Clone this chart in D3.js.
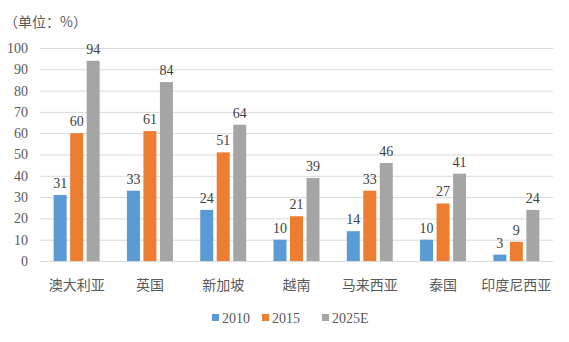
<!DOCTYPE html>
<html>
<head>
<meta charset="utf-8">
<script src="https://cdn.jsdelivr.net/npm/d3@7"></script>
<style>
  html, body { margin: 0; padding: 0; background: #fff; }
  svg { display: block; }
</style>
</head>
<body>
<svg id="chart" width="569" height="342"></svg>
<script>
// Chart data
const categories = ["澳大利亚", "英国", "新加坡", "越南", "马来西亚", "泰国", "印度尼西亚"];
const seriesNames = ["2010", "2015", "2025E"];
const values2010 = [31, 33, 24, 10, 14, 10, 3];
const values2015 = [60, 61, 51, 21, 33, 27, 9];
const values2025 = [94, 84, 64, 39, 46, 41, 24];
const yTicks = [0, 10, 20, 30, 40, 50, 60, 70, 80, 90, 100];
const colors = ["#5B9BD5", "#ED7D31", "#A5A5A5"];
const unitLabel = "（单位：%）";

const seriesValues = [values2010, values2015, values2025];

const svg = d3.select("#chart");
const serif = "'Liberation Serif', 'Times New Roman', serif";
const cjk = "'Noto Sans CJK SC', sans-serif";
const textColor = "#595959";

const margin = { left: 40, right: 16, top: 48, bottom: 81 };
const W = 569, H = 342;
const plotW = W - margin.left - margin.right;
const plotH = H - margin.top - margin.bottom;

const x = d3.scaleBand().domain(categories).range([margin.left, margin.left + plotW]);
const y = d3.scaleLinear().domain([0, 100]).range([margin.top + plotH, margin.top]);
const barW = 13, step = 16.5;

// Gridlines and y-axis labels
const yAxis = d3.axisLeft(y).tickValues(yTicks).tickSize(-plotW).tickPadding(12).tickFormat(d3.format("d"));
const gy = svg.append("g").attr("transform", `translate(${margin.left},0)`).call(yAxis);
gy.select(".domain").remove();
gy.selectAll(".tick line").attr("stroke", "#D9D9D9").attr("stroke-width", 1);
gy.selectAll(".tick text").attr("fill", textColor).style("font-family", serif).style("font-size", "14px");

// Bars grouped by category
const groups = svg.append("g").selectAll("g").data(categories).join("g")
  .attr("transform", d => `translate(${x(d) + x.bandwidth() / 2},0)`);

seriesValues.forEach((vals, si) => {
  const off = (si - 1) * step - barW / 2;
  groups.append("rect")
    .attr("x", off)
    .attr("y", (d, i) => y(vals[i]))
    .attr("width", barW)
    .attr("height", (d, i) => y(0) - y(vals[i]))
    .attr("fill", colors[si]);
  groups.append("text")
    .attr("x", off + barW / 2)
    .attr("y", (d, i) => y(vals[i]) - 7)
    .attr("text-anchor", "middle")
    .attr("fill", "#404040")
    .style("font-family", serif)
    .style("font-size", "14px")
    .text((d, i) => vals[i]);
});

// Category axis labels
const xAxis = d3.axisBottom(x).tickSize(0).tickPadding(19);
const gx = svg.append("g").attr("transform", `translate(0,${y(0)})`).call(xAxis);
gx.select(".domain").remove();
gx.selectAll(".tick text").attr("fill", textColor).style("font-family", cjk).style("font-size", "14px");

// Unit label
svg.append("text").attr("x", 4).attr("y", 27)
  .attr("fill", textColor).style("font-family", cjk).style("font-size", "14px")
  .text(unitLabel);

// Legend
const legendX = [212, 262, 322];
const legend = svg.append("g").selectAll("g").data(seriesNames).join("g")
  .attr("transform", (d, i) => `translate(${legendX[i]},318)`);
legend.append("rect").attr("x", 0).attr("y", -4).attr("width", 7).attr("height", 7)
  .attr("fill", (d, i) => colors[i]);
legend.append("text").attr("x", 10).attr("y", 5)
  .attr("fill", textColor).style("font-family", serif).style("font-size", "14px")
  .text(d => d);
</script>
</body>
</html>
